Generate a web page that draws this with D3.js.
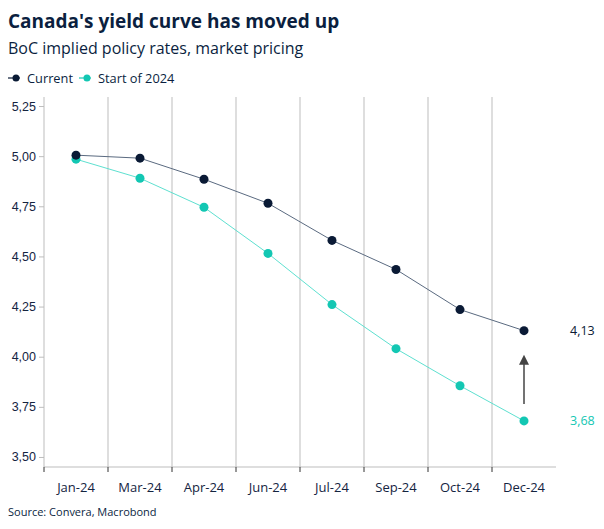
<!DOCTYPE html>
<html lang="en">
<head>
<meta charset="UTF-8">
<title>Canada's yield curve has moved up</title>
<script src="https://d3js.org/d3.v7.min.js"></script>
<style>
    body { margin: 0; background: #fff; font-family: "Open Sans", "Noto Sans", sans-serif; }
    .tick text { fill: #14243f; font-size: 12.5px; }
</style>
</head>
<body>
<svg width="604" height="529"></svg>
<script>
    const months = ["Jan-24", "Mar-24", "Apr-24", "Jun-24", "Jul-24", "Sep-24", "Oct-24", "Dec-24"];
    const current = [5.005, 4.99, 4.885, 4.765, 4.58, 4.435, 4.235, 4.13];
    const start2024 = [4.985, 4.89, 4.745, 4.515, 4.26, 4.04, 3.855, 3.68];
    const yTicks = [3.5, 3.75, 4.0, 4.25, 4.5, 4.75, 5.0, 5.25];

    const navy = "#0a1a35";
    const teal = "#13c7b3";
    const comma = d => d3.format(".2f")(d).replace(".", ",");

    const plotL = 44, plotR = 556, plotT = 97, plotB = 467;
    const svg = d3.select("svg");

    const x = d3.scaleBand().domain(months).range([plotL, plotR]);
    const y = d3.scaleLinear().domain([3.45, 5.295]).range([plotB, plotT]);

    // titles
    svg.append("text").attr("x", 8).attr("y", 28)
        .style("font-size", "19px").style("font-weight", "bold").style("fill", "#0b1f3f")
        .text("Canada's yield curve has moved up");
    svg.append("text").attr("x", 8).attr("y", 54)
        .style("font-size", "16px").style("fill", "#0b1f3f")
        .text("BoC implied policy rates, market pricing");

    // legend
    const legend = svg.append("g").attr("transform", "translate(8, 78)");
    const items = [{ name: "Current", c: navy }, { name: "Start of 2024", c: teal }];
    let lx = 0;
    items.forEach(it => {
        legend.append("line").attr("x1", lx).attr("x2", lx + 12).attr("y1", 0).attr("y2", 0)
            .style("stroke", it.c).style("stroke-width", 1.2);
        legend.append("circle").attr("cx", lx + 8).attr("cy", 0).attr("r", 3.5).style("fill", it.c);
        const t = legend.append("text").attr("x", lx + 19).attr("y", 4.5)
            .style("font-size", "12.8px").style("fill", "#0b1f3f").text(it.name);
        lx += 19 + t.node().getComputedTextLength() + 6;
    });

    // vertical gridlines at band boundaries
    svg.append("g").selectAll("line")
        .data(months.slice(1))
        .join("line")
        .attr("x1", d => x(d)).attr("x2", d => x(d))
        .attr("y1", plotT).attr("y2", plotB)
        .style("stroke", "#bdbdbd").style("stroke-width", 1);

    // y axis
    const yAxis = svg.append("g").attr("transform", `translate(${plotL},0)`)
        .call(d3.axisLeft(y).tickValues(yTicks).tickFormat(comma).tickSize(5).tickPadding(3));
    yAxis.select(".domain").attr("d", `M0,${plotT}V${plotB}`).style("stroke", "#bdbdbd");
    yAxis.selectAll(".tick line").style("stroke", "#bdbdbd");

    // x axis: ticks at left edge of each band
    const xAxis = svg.append("g").attr("transform", `translate(0,${plotB})`);
    xAxis.append("line").attr("x1", plotL).attr("x2", plotR).attr("y1", 0).attr("y2", 0)
        .style("stroke", "#bdbdbd");
    xAxis.selectAll("line.tk").data(months).join("line").attr("class", "tk")
        .attr("x1", d => x(d)).attr("x2", d => x(d)).attr("y1", 0).attr("y2", 5)
        .style("stroke", "#333");
    xAxis.selectAll("text").data(months).join("text")
        .attr("x", d => x(d) + x.bandwidth() / 2).attr("y", 25)
        .attr("text-anchor", "middle")
        .style("font-size", "13px").style("fill", "#14243f")
        .text(d => d);

    const cx = d => x(d) + x.bandwidth() / 2;
    const line = d3.line().x((d, i) => cx(months[i])).y(d => y(d));

    [[start2024, teal, "#5ee0d0"], [current, navy, "#5a6a80"]].forEach(([vals, c, lc]) => {
        svg.append("path").datum(vals).attr("d", line)
            .style("fill", "none").style("stroke", lc).style("stroke-width", 1);
        svg.append("g").selectAll("circle").data(vals).join("circle")
            .attr("cx", (d, i) => cx(months[i])).attr("cy", d => y(d))
            .attr("r", 4.5).style("fill", c);
    });

    // end labels
    const last = months.length - 1;
    svg.append("text").attr("x", 570).attr("y", y(current[last]) + 4.5)
        .style("font-size", "12.5px").style("fill", navy).text(comma(current[last]));
    svg.append("text").attr("x", 570).attr("y", y(start2024[last]) + 4.5)
        .style("font-size", "12.5px").style("fill", teal).text(comma(start2024[last]));

    // arrow
    const ax = cx(months[last]);
    svg.append("line").attr("x1", ax).attr("x2", ax)
        .attr("y1", y(start2024[last]) - 17).attr("y2", y(current[last]) + 32)
        .style("stroke", "#444").style("stroke-width", 1.5);
    const tipY = y(current[last]) + 24;
    svg.append("path")
        .attr("d", `M${ax},${tipY}L${ax - 5},${tipY + 10}L${ax + 5},${tipY + 10}Z`)
        .style("fill", "#444");

    // source
    svg.append("text").attr("x", 8).attr("y", 516)
        .style("font-size", "11px").style("fill", "#0b1f3f")
        .text("Source: Convera, Macrobond");
</script>
</body>
</html>
